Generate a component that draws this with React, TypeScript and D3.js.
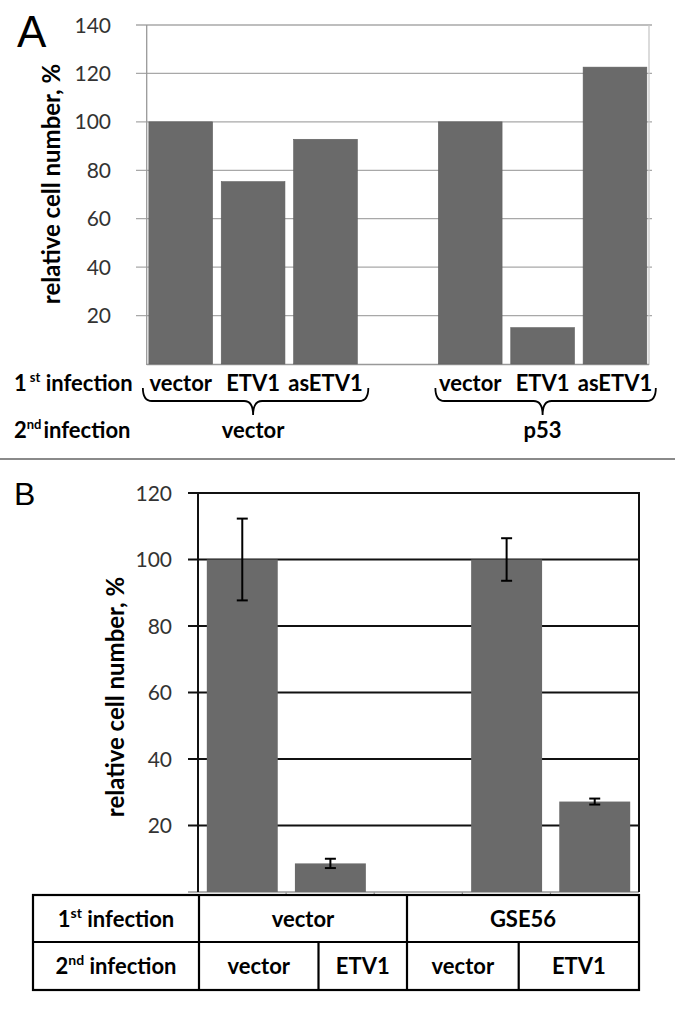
import React from "react";
import * as d3 from "d3";

// ---------- Panel A data ----------
const firstInfA = ["vector", "ETV1", "asETV1"];
const secondInfA = ["vector", "p53"];
const valuesAvector = [100, 75.3, 92.8];
const valuesAp53 = [100, 15, 122.6];
const ticksA = [20, 40, 60, 80, 100, 120, 140];

// ---------- Panel B data ----------
const firstInfB = ["vector", "GSE56"];
const secondInfB = ["vector", "ETV1"];
const valuesBvector = [100, 8.6];
const valuesBgse = [100, 27.2];
const errorsBvector = [12.3, 1.4];
const errorsBgse = [6.4, 0.9];
const ticksB = [20, 40, 60, 80, 100, 120];

const FONT = "Lato, 'Open Sans', sans-serif";
const BAR = "#6a6a6a";
const LBL = 22;
const TICK = 21;
const TITLE = 24;

function brace(x0: number, x1: number, xm: number, yTop: number, yMid: number, yTip: number) {
  const r = 9;
  return `M${x0},${yTop} Q${x0},${yMid} ${x0 + r},${yMid} L${xm - r},${yMid} Q${xm},${yMid} ${xm},${yTip} Q${xm},${yMid} ${xm + r},${yMid} L${x1 - r},${yMid} Q${x1},${yMid} ${x1},${yTop}`;
}

export default function App() {
  // ---- Panel A scales ----
  const slotsA = [
    ...firstInfA.map((c) => `0-${c}`),
    "gap",
    ...firstInfA.map((c) => `1-${c}`),
  ];
  const barsA = [
    ...firstInfA.map((c, i) => ({ key: `0-${c}`, label: c, v: valuesAvector[i] })),
    ...firstInfA.map((c, i) => ({ key: `1-${c}`, label: c, v: valuesAp53[i] })),
  ];
  const xA = d3.scaleBand<string>().domain(slotsA).range([146.7, 649]).paddingInner(0.12).paddingOuter(0.03);
  const yA = d3.scaleLinear().domain([0, 140]).range([364, 25]);
  const bwA = xA.bandwidth();

  // ---- Panel B scales ----
  const slotsB = ["0-vector", "0-ETV1", "gap", "1-vector", "1-ETV1"];
  const barsB = [
    ...secondInfB.map((c, i) => ({ key: `0-${c}`, v: valuesBvector[i], e: errorsBvector[i] })),
    ...secondInfB.map((c, i) => ({ key: `1-${c}`, v: valuesBgse[i], e: errorsBgse[i] })),
  ];
  const xB = d3.scaleBand<string>().domain(slotsB).range([198, 639]).paddingInner(0.195).paddingOuter(0.1);
  const yB = d3.scaleLinear().domain([0, 120]).range([892, 493]);
  const bwB = xB.bandwidth();
  const stepB = xB.step();

  const leftBraceX0 = (xA("0-vector") as number) - 6;
  const leftBraceX1 = (xA("0-asETV1") as number) + bwA + 11;
  const leftBraceXm = (xA("0-ETV1") as number) + bwA / 2;
  const rightBraceX0 = (xA("1-vector") as number) - 3;
  const rightBraceX1 = (xA("1-asETV1") as number) + bwA + 9;
  const rightBraceXm = (xA("1-ETV1") as number) + bwA / 2;

  // table geometry
  const tL = 33, tR = 639, tT = 895, tM = 942, tB = 990;
  const c1 = 199, c2 = 407, c1b = 318.5, c2b = 518.7;

  return (
    <svg width={675} height={1010} style={{ position: "absolute", left: 0, top: 0, background: "#fff" }} fontFamily={FONT}>
      <rect x={0} y={0} width={675} height={1010} fill="#fff" />
      {/* ================= Panel A ================= */}
      <text x={17} y={47} fontFamily="'Liberation Sans', Arial, sans-serif" fontSize={44}>A</text>
      {ticksA.map((t) => (
        <line key={t} x1={136} x2={652} y1={yA(t)} y2={yA(t)} stroke="#a8a8a8" strokeWidth={1.3} />
      ))}
      {ticksA.map((t) => (
        <text key={`l${t}`} x={111} y={yA(t)} dy="0.36em" textAnchor="end" fontSize={TICK} fill="#333">{t}</text>
      ))}
      <line x1={146.7} x2={146.7} y1={25} y2={365} stroke="#999" strokeWidth={1.3} />
      <line x1={649} x2={649} y1={25} y2={365} stroke="#c8c8c8" strokeWidth={1.3} />
      <line x1={146.7} x2={649} y1={364.5} y2={364.5} stroke="#999" strokeWidth={1.3} />
      {barsA.map((b) => (
        <rect key={b.key} x={xA(b.key)} y={yA(b.v)} width={bwA} height={yA(0) - yA(b.v)} fill={BAR} stroke="#5e5e5e" strokeWidth={0.6} />
      ))}
      <text transform={`translate(50,184) rotate(-90)`} textAnchor="middle" dominantBaseline="central" fontSize={TITLE} fontWeight="bold">relative cell number, %</text>
      {/* row labels */}
      <text x={14} y={391} fontSize={LBL} fontWeight="bold">1<tspan fontSize={13} dx={3} dy={-9}>st</tspan><tspan dy={9}> infection</tspan></text>
      <text x={14} y={438} fontSize={LBL} fontWeight="bold">2<tspan fontSize={13} dy={-9}>nd</tspan><tspan dx={2} dy={9}>infection</tspan></text>
      {barsA.map((b) => (
        <text key={`c${b.key}`} x={(xA(b.key) as number) + bwA / 2} y={391} textAnchor="middle" fontSize={LBL} fontWeight="bold">{b.label}</text>
      ))}
      <path d={brace(leftBraceX0, leftBraceX1, leftBraceXm, 388, 401, 415)} fill="none" stroke="#000" strokeWidth={1.8} />
      <path d={brace(rightBraceX0, rightBraceX1, rightBraceXm, 388, 401, 415)} fill="none" stroke="#000" strokeWidth={1.8} />
      <text x={leftBraceXm} y={438} textAnchor="middle" fontSize={LBL} fontWeight="bold">{secondInfA[0]}</text>
      <text x={rightBraceXm} y={438} textAnchor="middle" fontSize={LBL} fontWeight="bold">{secondInfA[1]}</text>

      {/* separator */}
      <line x1={0} x2={675} y1={459} y2={459} stroke="#8a8a8a" strokeWidth={2} />

      {/* ================= Panel B ================= */}
      <text x={14} y={505} fontFamily="'Liberation Sans', Arial, sans-serif" fontSize={32}>B</text>
      {ticksB.map((t) => (
        <line key={t} x1={188} x2={639} y1={yB(t)} y2={yB(t)} stroke="#111" strokeWidth={2} />
      ))}
      {ticksB.map((t) => (
        <text key={`l${t}`} x={172} y={yB(t)} dy="0.36em" textAnchor="end" fontSize={TICK} fill="#333">{t}</text>
      ))}
      <line x1={188} x2={639} y1={892} y2={892} stroke="#999" strokeWidth={1.3} />
      {d3.range(1, 5).map((i) => (
        <line key={`xt${i}`} x1={198 + i * stepB} x2={198 + i * stepB} y1={892} y2={896} stroke="#999" strokeWidth={1.2} />
      ))}
      {barsB.map((b) => (
        <rect key={b.key} x={xB(b.key)} y={yB(b.v)} width={bwB} height={yB(0) - yB(b.v)} fill={BAR} />
      ))}
      <line x1={198} x2={198} y1={493} y2={892} stroke="#111" strokeWidth={2} />
      <line x1={639} x2={639} y1={492} y2={892} stroke="#111" strokeWidth={2} />
      {barsB.map((b) => {
        const cx = (xB(b.key) as number) + bwB / 2;
        return (
          <g key={`e${b.key}`} stroke="#000" strokeWidth={2}>
            <line x1={cx} x2={cx} y1={yB(b.v + b.e)} y2={yB(b.v - b.e)} />
            <line x1={cx - 5.5} x2={cx + 5.5} y1={yB(b.v + b.e)} y2={yB(b.v + b.e)} />
            <line x1={cx - 5.5} x2={cx + 5.5} y1={yB(b.v - b.e)} y2={yB(b.v - b.e)} />
          </g>
        );
      })}
      <text transform={`translate(114,697) rotate(-90)`} textAnchor="middle" dominantBaseline="central" fontSize={TITLE} fontWeight="bold">relative cell number, %</text>

      {/* table */}
      <g stroke="#000" strokeWidth={2.2} fill="none">
        <rect x={tL} y={tT} width={tR - tL} height={tB - tT} />
        <line x1={tL} x2={tR} y1={tM} y2={tM} />
        <line x1={c1} x2={c1} y1={tT} y2={tB} />
        <line x1={c2} x2={c2} y1={tT} y2={tB} />
        <line x1={c1b} x2={c1b} y1={tM} y2={tB} />
        <line x1={c2b} x2={c2b} y1={tM} y2={tB} />
      </g>
      <g fontSize={LBL} fontWeight="bold" textAnchor="middle">
        <text x={(tL + c1) / 2} y={(tT + tM) / 2 + 8}>1<tspan fontSize={14} dy={-9}>st</tspan><tspan dy={9}> infection</tspan></text>
        <text x={(tL + c1) / 2} y={(tM + tB) / 2 + 8}>2<tspan fontSize={14} dy={-9}>nd</tspan><tspan dy={9}> infection</tspan></text>
        <text x={(c1 + c2) / 2} y={(tT + tM) / 2 + 8}>{firstInfB[0]}</text>
        <text x={(c2 + tR) / 2} y={(tT + tM) / 2 + 8}>{firstInfB[1]}</text>
        <text x={(c1 + c1b) / 2} y={(tM + tB) / 2 + 8}>{secondInfB[0]}</text>
        <text x={(c1b + c2) / 2} y={(tM + tB) / 2 + 8}>{secondInfB[1]}</text>
        <text x={(c2 + c2b) / 2} y={(tM + tB) / 2 + 8}>{secondInfB[0]}</text>
        <text x={(c2b + tR) / 2} y={(tM + tB) / 2 + 8}>{secondInfB[1]}</text>
      </g>
    </svg>
  );
}
